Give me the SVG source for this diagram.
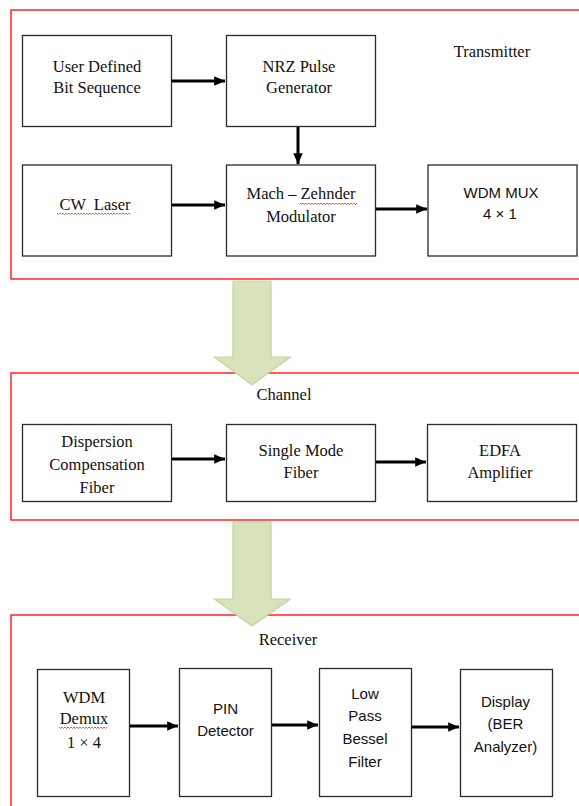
<svg xmlns="http://www.w3.org/2000/svg" width="579" height="806" viewBox="0 0 579 806">
<style>
.frame{fill:none;stroke:#ff0000;stroke-width:1.3}
.box{fill:#ffffff;stroke:#2a2a2a;stroke-width:1.3}
.serif{font-family:"Liberation Serif","Times New Roman",serif;font-size:16.5px;fill:#111;text-anchor:middle}
.sans{font-family:"Liberation Sans",Arial,sans-serif;font-size:15px;fill:#111;text-anchor:middle}
.conn{stroke:#000;stroke-width:3;fill:none;marker-end:url(#ah)}
.big{fill:#d6e3bc;stroke:#c2d69b;stroke-width:1.2}
.wavy{fill:none;stroke-width:0.8}
</style>
<defs>
<marker id="ah" markerWidth="4" markerHeight="4" refX="3.6" refY="2" orient="auto" markerUnits="strokeWidth">
<path d="M0,0.4 L3.6,2 L0,3.6 z" fill="#000"/>
</marker>
</defs>
<rect width="579" height="806" fill="#ffffff"/>

<!-- section frames -->
<g id="frames">
<rect class="frame" x="11" y="10" width="580" height="269"/>
<rect class="frame" x="11" y="373" width="580" height="147"/>
<rect class="frame" x="11" y="615" width="580" height="200"/>
</g>

<!-- section labels -->
<g id="labels">
<text class="serif" x="492" y="57">Transmitter</text>
<text class="serif" x="284" y="400">Channel</text>
<text class="serif" x="288" y="645">Receiver</text>
</g>

<!-- big flow arrows -->
<g id="flow-arrows">
<path class="big" d="M233,281 L271,281 L271,357 L290.5,357 L252,385 L214.5,357 L233,357 Z"/>
<path class="big" d="M233,522 L271,522 L271,599 L290.5,599 L252,626 L214.5,599 L233,599 Z"/>
</g>

<!-- Transmitter nodes -->
<g id="user-defined">
<rect class="box" x="22.5" y="35.5" width="149" height="91"/>
<text class="serif" x="97" y="72">User Defined</text>
<text class="serif" x="97" y="93">Bit Sequence</text>
</g>
<g id="nrz">
<rect class="box" x="226.5" y="35.5" width="149" height="91"/>
<text class="serif" x="299" y="72">NRZ Pulse</text>
<text class="serif" x="299" y="93">Generator</text>
</g>
<g id="cw-laser">
<rect class="box" x="22.5" y="165" width="149" height="91"/>
<text class="serif" x="95" y="210" word-spacing="4">CW Laser</text>
<path class="wavy" stroke="#3a9a3a" d="M57,213 l1.5,1.5 l1.5,-1.5 l1.5,1.5 l1.5,-1.5 l1.5,1.5 l1.5,-1.5 l1.5,1.5 l1.5,-1.5 l1.5,1.5 l1.5,-1.5 l1.5,1.5 l1.5,-1.5 l1.5,1.5 l1.5,-1.5 l1.5,1.5 l1.5,-1.5 l1.5,1.5 l1.5,-1.5 l1.5,1.5 l1.5,-1.5 l1.5,1.5 l1.5,-1.5 l1.5,1.5 l1.5,-1.5 l1.5,1.5 l1.5,-1.5 l1.5,1.5 l1.5,-1.5 l1.5,1.5 l1.5,-1.5 l1.5,1.5 l1.5,-1.5 l1.5,1.5 l1.5,-1.5 l1.5,1.5 l1.5,-1.5 l1.5,1.5 l1.5,-1.5 l1.5,1.5 l1.5,-1.5 l1.5,1.5 l1.5,-1.5 l1.5,1.5 l1.5,-1.5 l1.5,1.5 l1.5,-1.5 l1.5,1.5 l1.5,-1.5 l1.5,1.5"/>
</g>
<g id="mzm">
<rect class="box" x="226.5" y="165" width="149" height="91"/>
<text class="serif" x="301" y="199">Mach – Zehnder</text>
<text class="serif" x="301" y="222">Modulator</text>
<path class="wavy" stroke="#e03030" d="M300,203 l1.5,1.5 l1.5,-1.5 l1.5,1.5 l1.5,-1.5 l1.5,1.5 l1.5,-1.5 l1.5,1.5 l1.5,-1.5 l1.5,1.5 l1.5,-1.5 l1.5,1.5 l1.5,-1.5 l1.5,1.5 l1.5,-1.5 l1.5,1.5 l1.5,-1.5 l1.5,1.5 l1.5,-1.5 l1.5,1.5 l1.5,-1.5 l1.5,1.5 l1.5,-1.5 l1.5,1.5 l1.5,-1.5 l1.5,1.5 l1.5,-1.5 l1.5,1.5 l1.5,-1.5 l1.5,1.5 l1.5,-1.5 l1.5,1.5 l1.5,-1.5 l1.5,1.5 l1.5,-1.5 l1.5,1.5 l1.5,-1.5 l1.5,1.5 l1.5,-1.5"/>
</g>
<g id="wdm-mux">
<rect class="box" x="428" y="165" width="149" height="91"/>
<text class="sans" x="501" y="198">WDM MUX</text>
<text class="sans" x="500" y="219">4 × 1</text>
</g>

<!-- Channel nodes -->
<g id="dcf">
<rect class="box" x="22.5" y="424.5" width="149" height="77"/>
<text class="serif" x="97" y="447">Dispersion</text>
<text class="serif" x="97" y="470">Compensation</text>
<text class="serif" x="97" y="493">Fiber</text>
</g>
<g id="smf">
<rect class="box" x="226.5" y="424.5" width="149" height="77"/>
<text class="serif" x="301" y="456">Single Mode</text>
<text class="serif" x="301" y="478">Fiber</text>
</g>
<g id="edfa">
<rect class="box" x="427.5" y="424.5" width="149" height="77"/>
<text class="serif" x="500" y="456">EDFA</text>
<text class="serif" x="500" y="478">Amplifier</text>
</g>

<!-- Receiver nodes -->
<g id="wdm-demux">
<rect class="box" x="37.5" y="669.5" width="92" height="127"/>
<text class="serif" x="84" y="703">WDM</text>
<text class="serif" x="84" y="724">Demux</text>
<text class="serif" x="84" y="748">1 × 4</text>
<path class="wavy" stroke="#e03030" d="M59,727 l1.5,1.5 l1.5,-1.5 l1.5,1.5 l1.5,-1.5 l1.5,1.5 l1.5,-1.5 l1.5,1.5 l1.5,-1.5 l1.5,1.5 l1.5,-1.5 l1.5,1.5 l1.5,-1.5 l1.5,1.5 l1.5,-1.5 l1.5,1.5 l1.5,-1.5 l1.5,1.5 l1.5,-1.5 l1.5,1.5 l1.5,-1.5 l1.5,1.5 l1.5,-1.5 l1.5,1.5 l1.5,-1.5 l1.5,1.5 l1.5,-1.5 l1.5,1.5 l1.5,-1.5 l1.5,1.5 l1.5,-1.5 l1.5,1.5 l1.5,-1.5"/>
</g>
<g id="pin">
<rect class="box" x="179.5" y="668.5" width="92" height="128"/>
<text class="sans" x="225.5" y="714">PIN</text>
<text class="sans" x="225.5" y="736">Detector</text>
</g>
<g id="lpf">
<rect class="box" x="319.5" y="668.5" width="92" height="128"/>
<text class="sans" x="365" y="699">Low</text>
<text class="sans" x="365" y="721">Pass</text>
<text class="sans" x="365" y="744">Bessel</text>
<text class="sans" x="365" y="767">Filter</text>
</g>
<g id="display">
<rect class="box" x="460.5" y="669.5" width="92" height="127"/>
<text class="sans" x="505.5" y="707">Display</text>
<text class="sans" x="505.5" y="729">(BER</text>
<text class="sans" x="505.5" y="752">Analyzer)</text>
</g>

<!-- connectors -->
<g id="connectors">
<line class="conn" x1="172" y1="81" x2="225" y2="81"/>
<line class="conn" x1="298" y1="127" x2="298" y2="164"/>
<line class="conn" x1="172" y1="205" x2="225" y2="205"/>
<line class="conn" x1="376" y1="209" x2="427" y2="209"/>
<line class="conn" x1="172" y1="459" x2="225" y2="459"/>
<line class="conn" x1="376" y1="462" x2="426" y2="462"/>
<line class="conn" x1="130" y1="726" x2="178" y2="726"/>
<line class="conn" x1="272" y1="725" x2="318" y2="725"/>
<line class="conn" x1="412" y1="727" x2="459" y2="727"/>
</g>
</svg>
